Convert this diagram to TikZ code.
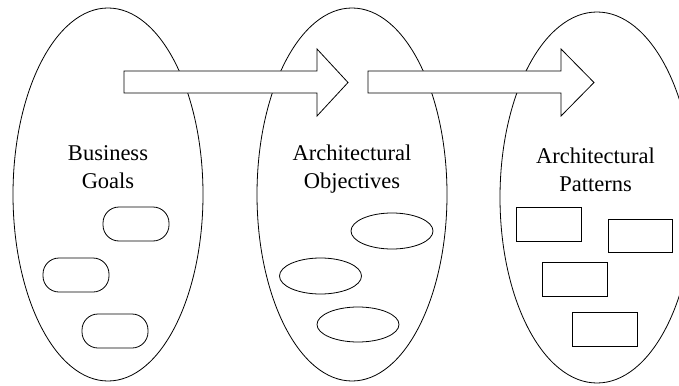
\documentclass[tikz,border=0pt]{standalone}
\usepackage{fontspec}
\setmainfont{Liberation Serif}
\usetikzlibrary{shapes.geometric}
\begin{document}
\begin{tikzpicture}[x=1pt,y=-1pt,
  outline/.style={draw=black, line width=0.8pt},
  bigoval/.style={outline, ellipse, inner sep=0pt, minimum width=190pt, minimum height=373pt},
  pill/.style={outline, rectangle, rounded corners=16pt, inner sep=0pt, minimum width=66pt, minimum height=34pt},
  smalloval/.style={outline, ellipse, inner sep=0pt, minimum width=82pt, minimum height=36pt},
  box/.style={outline, rectangle, inner sep=0pt, minimum width=65pt, minimum height=34pt},
  blockarrow/.style={outline, fill=white, line join=miter},
  label/.style={inner sep=0pt, align=center, font=\fontsize{22.5}{27.5}\selectfont}]
\clip (0,0) rectangle (679,385);
\fill[white] (0,0) rectangle (679,385);
% big ovals
\node[bigoval] (goals) at (108,194.5) {};
\node[bigoval] (objectives) at (352,194.5) {};
\node[bigoval, minimum width=194pt, minimum height=371pt] (patterns) at (597,197.5) {};
% block arrows
\draw[blockarrow] (124,71) -- (317,71) -- (317,49) -- (348,82.5) -- (317,116) -- (317,93) -- (124,93) -- cycle;
\draw[blockarrow] (368,71) -- (561,71) -- (561,49) -- (594,82.5) -- (561,116) -- (561,93) -- (368,93) -- cycle;
% labels
\node[label] (tgoals) at (108,168.75) {\strut Business\\\strut Goals};
\node[label] (tobj) at (352,168.75) {\strut Architectural\\\strut Objectives};
\node[label] (tpat) at (595.5,171.75) {\strut Architectural\\\strut Patterns};
% goals items
\node[pill] (g1) at (136,224) {};
\node[pill] (g2) at (76,275) {};
\node[pill] (g3) at (115,331) {};
% objective items
\node[smalloval] (o1) at (392,231) {};
\node[smalloval] (o2) at (320.5,276) {};
\node[smalloval, minimum height=35pt] (o3) at (358,324.5) {};
% pattern items
\node[box] (p1) at (548.5,224) {};
\node[box, minimum width=64pt, minimum height=33pt] (p2) at (640,235.5) {};
\node[box] (p3) at (574.5,279) {};
\node[box] (p4) at (604.5,329) {};
\end{tikzpicture}
\end{document}
